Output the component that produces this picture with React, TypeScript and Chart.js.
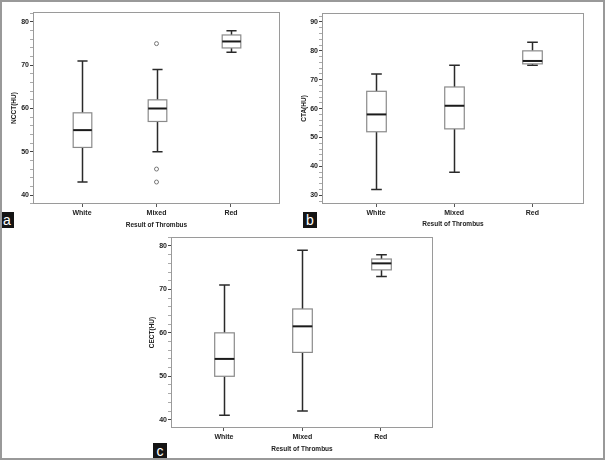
import React, { useEffect, useRef } from "react";
import { Chart, registerables } from "chart.js";

Chart.register(...registerables);

const categories = ["White", "Mixed", "Red"];
const xAxisTitle = "Result of Thrombus";

// Panel a — NCCT(HU)
const ncctLow = [43, 50, 73];
const ncctQ1 = [51, 57, 74];
const ncctMedian = [55, 60, 75.5];
const ncctQ3 = [59, 62, 77];
const ncctHigh = [71, 69, 78];
const ncctOutlierCategory = ["Mixed", "Mixed", "Mixed"];
const ncctOutlierValue = [75, 46, 43];
const ncctTickLabels = [40, 50, 60, 70, 80];

// Panel b — CTA(HU)
const ctaLow = [32, 38, 75];
const ctaQ1 = [52, 53, 75.5];
const ctaMedian = [58, 61, 76.5];
const ctaQ3 = [66, 67.5, 80];
const ctaHigh = [72, 75, 83];
const ctaOutlierCategory: string[] = [];
const ctaOutlierValue: number[] = [];
const ctaTickLabels = [30, 40, 50, 60, 70, 80, 90];

// Panel c — CECT(HU)
const cectLow = [41, 42, 73];
const cectQ1 = [50, 55.5, 74.5];
const cectMedian = [54, 61.5, 76];
const cectQ3 = [60, 65.5, 77];
const cectHigh = [71, 79, 78];
const cectOutlierCategory: string[] = [];
const cectOutlierValue: number[] = [];
const cectTickLabels = [40, 50, 60, 70, 80];

const FONT = "'Liberation Sans', Arial, Helvetica, sans-serif";
const TEXT = "#222";

type Stats = { low: number[]; q1: number[]; med: number[]; q3: number[]; high: number[] };

function makeBoxPlugin(stats: Stats) {
  return {
    id: "boxplot",
    beforeDatasetsDraw(chart: any) {
      const { ctx, chartArea } = chart;
      const x = chart.scales.x;
      const y = chart.scales.y;
      ctx.save();
      ctx.strokeStyle = "#9a9a9a";
      ctx.lineWidth = 1;
      ctx.strokeRect(
        chartArea.left + 0.5,
        chartArea.top + 0.5,
        chartArea.right - chartArea.left - 1,
        chartArea.bottom - chartArea.top - 1
      );
      stats.low.forEach((lo, i) => {
        const v = i + 1;
        const cx = Math.round(x.getPixelForValue(v)) + 0.5;
        const halfBox = x.getPixelForValue(v + 0.125) - x.getPixelForValue(v);
        const halfCap = x.getPixelForValue(v + 0.068) - x.getPixelForValue(v);
        const yLo = y.getPixelForValue(lo);
        const yQ1 = y.getPixelForValue(stats.q1[i]);
        const yMed = y.getPixelForValue(stats.med[i]);
        const yQ3 = y.getPixelForValue(stats.q3[i]);
        const yHi = y.getPixelForValue(stats.high[i]);
        ctx.strokeStyle = "#2a2a2a";
        ctx.lineWidth = 1.5;
        ctx.beginPath();
        ctx.moveTo(cx, yQ3);
        ctx.lineTo(cx, yHi);
        ctx.moveTo(cx, yQ1);
        ctx.lineTo(cx, yLo);
        ctx.moveTo(cx - halfCap, yHi);
        ctx.lineTo(cx + halfCap, yHi);
        ctx.moveTo(cx - halfCap, yLo);
        ctx.lineTo(cx + halfCap, yLo);
        ctx.stroke();
        ctx.fillStyle = "#ffffff";
        ctx.fillRect(cx - halfBox, yQ3, halfBox * 2, yQ1 - yQ3);
        ctx.strokeStyle = "#8a8a8a";
        ctx.lineWidth = 1.2;
        ctx.strokeRect(cx - halfBox, yQ3, halfBox * 2, yQ1 - yQ3);
        ctx.strokeStyle = "#1a1a1a";
        ctx.lineWidth = 2;
        ctx.beginPath();
        ctx.moveTo(cx - halfBox, yMed);
        ctx.lineTo(cx + halfBox, yMed);
        ctx.stroke();
      });
      ctx.restore();
    },
  };
}

type PanelCfg = {
  left: number;
  top: number;
  w: number;
  h: number;
  pad: { left: number; right: number; top: number; bottom: number };
  yWidth: number;
  xHeight: number;
  xMin: number;
  xMax: number;
  yMin: number;
  yMax: number;
  yTitle: string;
  yTitlePad: number;
  xTitlePad: number;
  tickLabels: number[];
  stats: Stats;
  outCat: string[];
  outVal: number[];
};

function buildConfig(p: PanelCfg): any {
  const tickFont = { family: FONT, size: 7, weight: "bold" as const };
  const titleFont = { family: FONT, size: 6.5, weight: "bold" as const };
  return {
    type: "scatter",
    data: {
      datasets: [
        {
          data: p.outVal.map((v, i) => ({ x: categories.indexOf(p.outCat[i]) + 1, y: v })),
          pointStyle: "circle",
          pointRadius: 2,
          pointBorderWidth: 1,
          pointBorderColor: "#777",
          pointBackgroundColor: "#fff",
        },
      ],
    },
    options: {
      responsive: false,
      animation: false,
      devicePixelRatio: 1,
      layout: { padding: p.pad },
      plugins: { legend: { display: false }, tooltip: { enabled: false } },
      scales: {
        x: {
          type: "linear",
          min: p.xMin,
          max: p.xMax,
          afterBuildTicks: (s: any) => {
            s.ticks = categories.map((_c, i) => ({ value: i + 1 }));
          },
          afterFit: (s: any) => {
            s.height = p.xHeight;
          },
          ticks: {
            callback: (_v: any, i: number) => categories[i],
            font: tickFont,
            color: TEXT,
            padding: 2,
            maxRotation: 0,
            autoSkip: false,
          },
          grid: { display: true, drawOnChartArea: false, drawTicks: true, tickLength: 3, color: "#555" },
          border: { display: false },
          title: {
            display: true,
            text: xAxisTitle,
            font: titleFont,
            color: TEXT,
            padding: { top: 0, bottom: p.xTitlePad },
          },
        },
        y: {
          type: "linear",
          min: p.yMin,
          max: p.yMax,
          afterBuildTicks: (s: any) => {
            const t: any[] = [];
            for (let v = Math.ceil(p.yMin / 2) * 2; v <= p.yMax; v += 2) t.push({ value: v });
            s.ticks = t;
          },
          afterFit: (s: any) => {
            s.width = p.yWidth;
          },
          ticks: {
            callback: (v: any) => (p.tickLabels.includes(v) ? String(v) : ""),
            font: tickFont,
            color: TEXT,
            padding: 1,
            autoSkip: false,
          },
          grid: {
            display: true,
            drawOnChartArea: false,
            drawTicks: true,
            tickLength: 3,
            color: (c: any) => (c.tick && p.tickLabels.includes(c.tick.value) ? "#444" : "#aaa"),
          },
          border: { display: false },
          title: {
            display: true,
            text: p.yTitle,
            font: titleFont,
            color: TEXT,
            padding: { top: p.yTitlePad, bottom: 0 },
          },
        },
      },
    },
    plugins: [makeBoxPlugin(p.stats)],
  };
}

const panelA: PanelCfg = {
  left: 0,
  top: 0,
  w: 300,
  h: 232,
  pad: { left: 0, right: 20, top: 12, bottom: 0 },
  yWidth: 33,
  xHeight: 28,
  xMin: 0.342,
  xMax: 3.658,
  yMin: 37.92,
  yMax: 82.31,
  yTitle: "NCCT(HU)",
  yTitlePad: 10,
  xTitlePad: 3,
  tickLabels: ncctTickLabels,
  stats: { low: ncctLow, q1: ncctQ1, med: ncctMedian, q3: ncctQ3, high: ncctHigh },
  outCat: ncctOutlierCategory,
  outVal: ncctOutlierValue,
};

const panelB: PanelCfg = {
  left: 300,
  top: 0,
  w: 305,
  h: 232,
  pad: { left: 0, right: 21, top: 13, bottom: 0 },
  yWidth: 22,
  xHeight: 28,
  xMin: 0.309,
  xMax: 3.66,
  yMin: 27,
  yMax: 93.1,
  yTitle: "CTA(HU)",
  yTitlePad: 0,
  xTitlePad: 4,
  tickLabels: ctaTickLabels,
  stats: { low: ctaLow, q1: ctaQ1, med: ctaMedian, q3: ctaQ3, high: ctaHigh },
  outCat: ctaOutlierCategory,
  outVal: ctaOutlierValue,
};

const panelC: PanelCfg = {
  left: 140,
  top: 228,
  w: 320,
  h: 232,
  pad: { left: 0, right: 27, top: 9, bottom: 0 },
  yWidth: 31,
  xHeight: 32,
  xMin: 0.325,
  xMax: 3.666,
  yMin: 38.09,
  yMax: 82.07,
  yTitle: "CECT(HU)",
  yTitlePad: 8,
  xTitlePad: 7,
  tickLabels: cectTickLabels,
  stats: { low: cectLow, q1: cectQ1, med: cectMedian, q3: cectQ3, high: cectHigh },
  outCat: cectOutlierCategory,
  outVal: cectOutlierValue,
};

function BoxPanel({ cfg }: { cfg: PanelCfg }) {
  const ref = useRef<HTMLCanvasElement>(null);
  useEffect(() => {
    const chart = new Chart(ref.current as HTMLCanvasElement, buildConfig(cfg));
    return () => chart.destroy();
  }, [cfg]);
  return (
    <canvas
      ref={ref}
      width={cfg.w}
      height={cfg.h}
      style={{ position: "absolute", left: cfg.left, top: cfg.top, width: cfg.w, height: cfg.h }}
    />
  );
}

function Tag({ text, left, top, w, h }: { text: string; left: number; top: number; w: number; h: number }) {
  return (
    <div
      style={{
        position: "absolute",
        left,
        top,
        width: w,
        height: h,
        background: "#141414",
        color: "#fff",
        fontFamily: FONT,
        fontSize: 14,
        lineHeight: `${h}px`,
        textAlign: "center",
      }}
    >
      {text}
    </div>
  );
}

export default function App() {
  return (
    <div style={{ position: "fixed", left: 0, top: 0, width: 605, height: 460, background: "#fff", overflow: "hidden" }}>
      <BoxPanel cfg={panelA} />
      <BoxPanel cfg={panelB} />
      <BoxPanel cfg={panelC} />
      <Tag text="a" left={0} top={212} w={14} h={16} />
      <Tag text="b" left={303} top={212} w={14} h={16} />
      <Tag text="c" left={153} top={443} w={14} h={17} />
      <div
        style={{
          position: "absolute",
          left: 0,
          top: 0,
          width: 605,
          height: 460,
          boxSizing: "border-box",
          border: "2px solid #999",
          pointerEvents: "none",
        }}
      />
    </div>
  );
}
